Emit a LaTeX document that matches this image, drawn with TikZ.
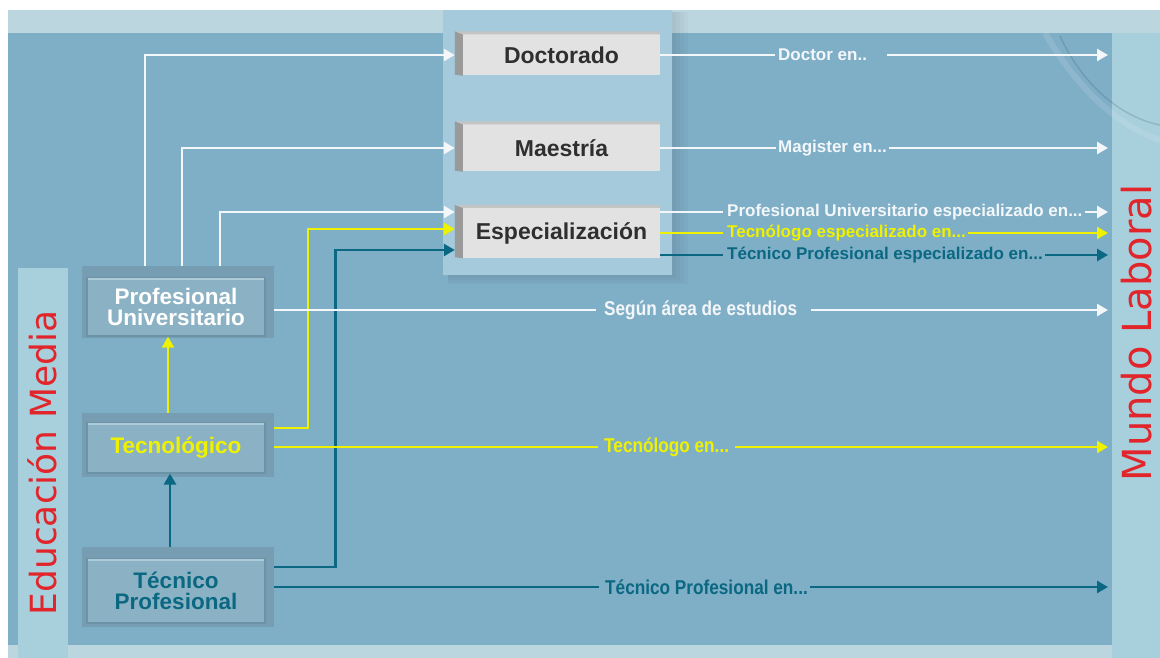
\documentclass[tikz,border=0pt]{standalone}
\usepackage{fontspec}
\setmainfont{Liberation Sans}
\newfontfamily\condfont[FakeStretch=0.86]{Liberation Sans}
\newfontfamily\titlefont{DejaVu Sans}
\usetikzlibrary{arrows.meta,calc}
\definecolor{bgblue}{HTML}{7FAEC7}
\definecolor{bandlight}{HTML}{BCD6E0}
\definecolor{panel}{HTML}{A4CADB}
\definecolor{sideband}{HTML}{A8CFDC}
\definecolor{boxface}{HTML}{E2E2E2}
\definecolor{boxside}{HTML}{9A9A9A}
\definecolor{boxtop}{HTML}{C4C4C4}
\definecolor{lbface}{HTML}{8BB2C4}
\definecolor{lbframe}{HTML}{769DB2}
\definecolor{lbedge}{HTML}{6A93A8}
\definecolor{lbhi}{HTML}{AECBD8}
\definecolor{wline}{HTML}{F3F7F9}
\definecolor{yline}{HTML}{EEF200}
\definecolor{tline}{HTML}{0B6882}
\definecolor{redt}{HTML}{E1252B}
\definecolor{darkt}{HTML}{2F2F2F}
\newcommand\boxbevel[1]{%
  \fill[boxside] (#1.south west) -- (#1.north west) -- ++(-8pt,3pt) -- ([shift={(-8pt,1pt)}]#1.south west) -- cycle;
  \fill[boxtop] (#1.north west) -- ++(-8pt,3pt) -- ([yshift=3pt]#1.north east) -- (#1.north east) -- cycle;}
\tikzset{
  cbox/.style={fill=boxface, minimum width=197pt, inner sep=0pt, text=darkt,
    font=\fontsize{23}{26}\selectfont\bfseries},
  lframe/.style={fill=lbframe, minimum width=192pt, inner sep=0pt},
  lbox/.style={fill=lbface, draw=lbedge, line width=1.2pt, minimum width=178pt, inner sep=0pt,
    align=center, font=\fontsize{22.5}{21}\selectfont\bfseries},
  tip/.style={-{Triangle[length=11pt,width=12pt]}},
  wl/.style={draw=wline, line width=2.6pt},
  yl/.style={draw=yline, line width=2.4pt},
  tl/.style={draw=tline, line width=2.6pt},
  lab/.style={anchor=west, inner sep=0pt, font=\fontsize{17}{17}\selectfont\bfseries},
  clab/.style={anchor=west, inner sep=0pt, font=\condfont\fontsize{20}{20}\selectfont\bfseries},
  title/.style={rotate=90, text=redt, inner sep=0pt}
}
\begin{document}
\begin{tikzpicture}[x=1pt,y=-1pt]
\useasboundingbox (0,0) rectangle (1160,658);
% background
\fill[white] (0,0) rectangle (1160,658);
\fill[bandlight] (8,10) rectangle (1160,658);
\fill[bgblue] (8,33) rectangle (1112,645);
\fill[sideband] (1112,33) rectangle (1160,658);
\fill[sideband] (18,268) rectangle (68,658);
% faint globe arcs
\draw[white, opacity=0.12, line width=6pt] (1045,33) .. controls (1075,85) and (1115,125) .. (1160,140);
\draw[black!60!bgblue, opacity=0.18, line width=1.5pt] (1060,36) .. controls (1085,90) and (1125,118) .. (1160,125);
% central panel with soft shadow
\foreach \d in {4,8,12,16}{
  \fill[black, opacity=0.025] (672,12) rectangle (672+\d,276+\d/2);
  \fill[black, opacity=0.025] (448,275) rectangle (672,276+\d/2);}
\fill[panel] (443,10) rectangle (672,275);
% centre boxes
\node[cbox, minimum height=41pt] (doc) at (561.5,55) {Doctorado};
\node[cbox, minimum height=47pt] (mae) at (561.5,148) {Maestría};
\node[cbox, minimum height=50pt] (esp) at (561.5,233) {Especialización};
\boxbevel{doc}\boxbevel{mae}\boxbevel{esp}
% left boxes
\node[lframe, minimum height=72pt] (puF) at (178,302) {};
\node[lbox, minimum height=58pt, text=white] (pu) at (176,307) {Profesional\\Universitario};
\node[lframe, minimum height=64pt] (tecF) at (178,445) {};
\node[lbox, minimum height=50pt, text=yline] (tec) at (176,448) {Tecnológico};
\node[lframe, minimum height=80pt] (tpF) at (178,587) {};
\node[lbox, minimum height=64pt, text=tline] (tp) at (176,591) {Técnico\\Profesional};
\foreach \n in {pu,tec,tp}{
  \draw[lbhi, line width=2pt] ([shift={(1.5pt,-2pt)}]\n.north west) -- ([shift={(-1.5pt,-2pt)}]\n.north east);}
% titles
\node[title, font=\titlefont\fontsize{36}{36}\selectfont] (edu) at (42,463) {Educación Media};
\node[title, font=\titlefont\fontsize{40}{40}\selectfont] (mundo) at (1137,333) {Mundo Laboral};
% labels
\node[lab, text=wline] (l1) at (778,55) {Doctor en..};
\node[lab, text=wline] (l2) at (778,148) {Magister en...};
\node[lab, text=wline] (l3) at (727,212) {Profesional Universitario especializado en...};
\node[lab, text=yline] (l4) at (727,233) {Tecnólogo especializado en...};
\node[lab, text=tline] (l5) at (727,255) {Técnico Profesional especializado en...};
\node[clab, text=wline] (l6) at (604,310) {Según área de estudios};
\node[clab, text=yline] (l7) at (604,447) {Tecnólogo en...};
\node[clab, text=tline] (l8) at (605,587) {Técnico Profesional en...};
% end points at Mundo Laboral
\coordinate (e1) at (1108,55);
\coordinate (e2) at (1108,148);
\coordinate (e3) at (1108,212);
\coordinate (e4) at (1108,233);
\coordinate (e5) at (1108,255);
\coordinate (e6) at (1108,310);
\coordinate (e7) at (1108,447);
\coordinate (e8) at (1108,587);
% connectors into centre boxes
\draw[wl,tip] ([xshift=-33pt]puF.north) |- ([xshift=-8pt]doc.west);
\draw[wl,tip] ([xshift=4pt]puF.north) |- ([xshift=-8pt]mae.west);
\draw[wl,tip] ([xshift=42pt]puF.north) |- ([shift={(-8pt,21pt)}]esp.west);
\draw[yl,tip] ([yshift=17pt]tecF.east) -- ++(34pt,0pt) |- ([shift={(-8pt,4pt)}]esp.west);
\draw[tl,tip] ([yshift=20pt]tpF.east) -- ++(61pt,0pt) |- ([shift={(-8pt,-17pt)}]esp.west);
% vertical arrows
\draw[yl,tip] ([xshift=-10pt]tecF.north) -- ([xshift=-8pt]pu.south);
\draw[tl,tip] ([xshift=-8pt]tpF.north) -- ([xshift=-6pt]tec.south);
% outputs
\draw[wl] (doc.east) -- ([xshift=-3pt]l1.west);
\draw[wl,tip] ([xshift=20pt]l1.east) -- (e1);
\draw[wl] (mae.east) -- ([xshift=-2pt]l2.west);
\draw[wl,tip] ([xshift=2pt]l2.east) -- (e2);
\draw[wl] ([yshift=21pt]esp.east) -- ([xshift=-4pt]l3.west);
\draw[wl,tip] ([xshift=2pt]l3.east) -- (e3);
\draw[yl] (esp.east) -- ([xshift=-4pt]l4.west);
\draw[yl,tip] ([xshift=2pt]l4.east) -- (e4);
\draw[tl] ([yshift=-22pt]esp.east) -- ([xshift=-4pt]l5.west);
\draw[tl,tip] ([xshift=2pt]l5.east) -- (e5);
\draw[wl] ([yshift=-8pt]puF.east) -- ([xshift=-8pt]l6.west);
\draw[wl,tip] ([xshift=14pt]l6.east) -- (e6);
\draw[yl] ([yshift=-2pt]tecF.east) -- ([xshift=-6pt]l7.west);
\draw[yl,tip] ([xshift=6pt]l7.east) -- (e7);
\draw[tl] (tpF.east) -- ([xshift=-6pt]l8.west);
\draw[tl,tip] ([xshift=2pt]l8.east) -- (e8);
\end{tikzpicture}
\end{document}
